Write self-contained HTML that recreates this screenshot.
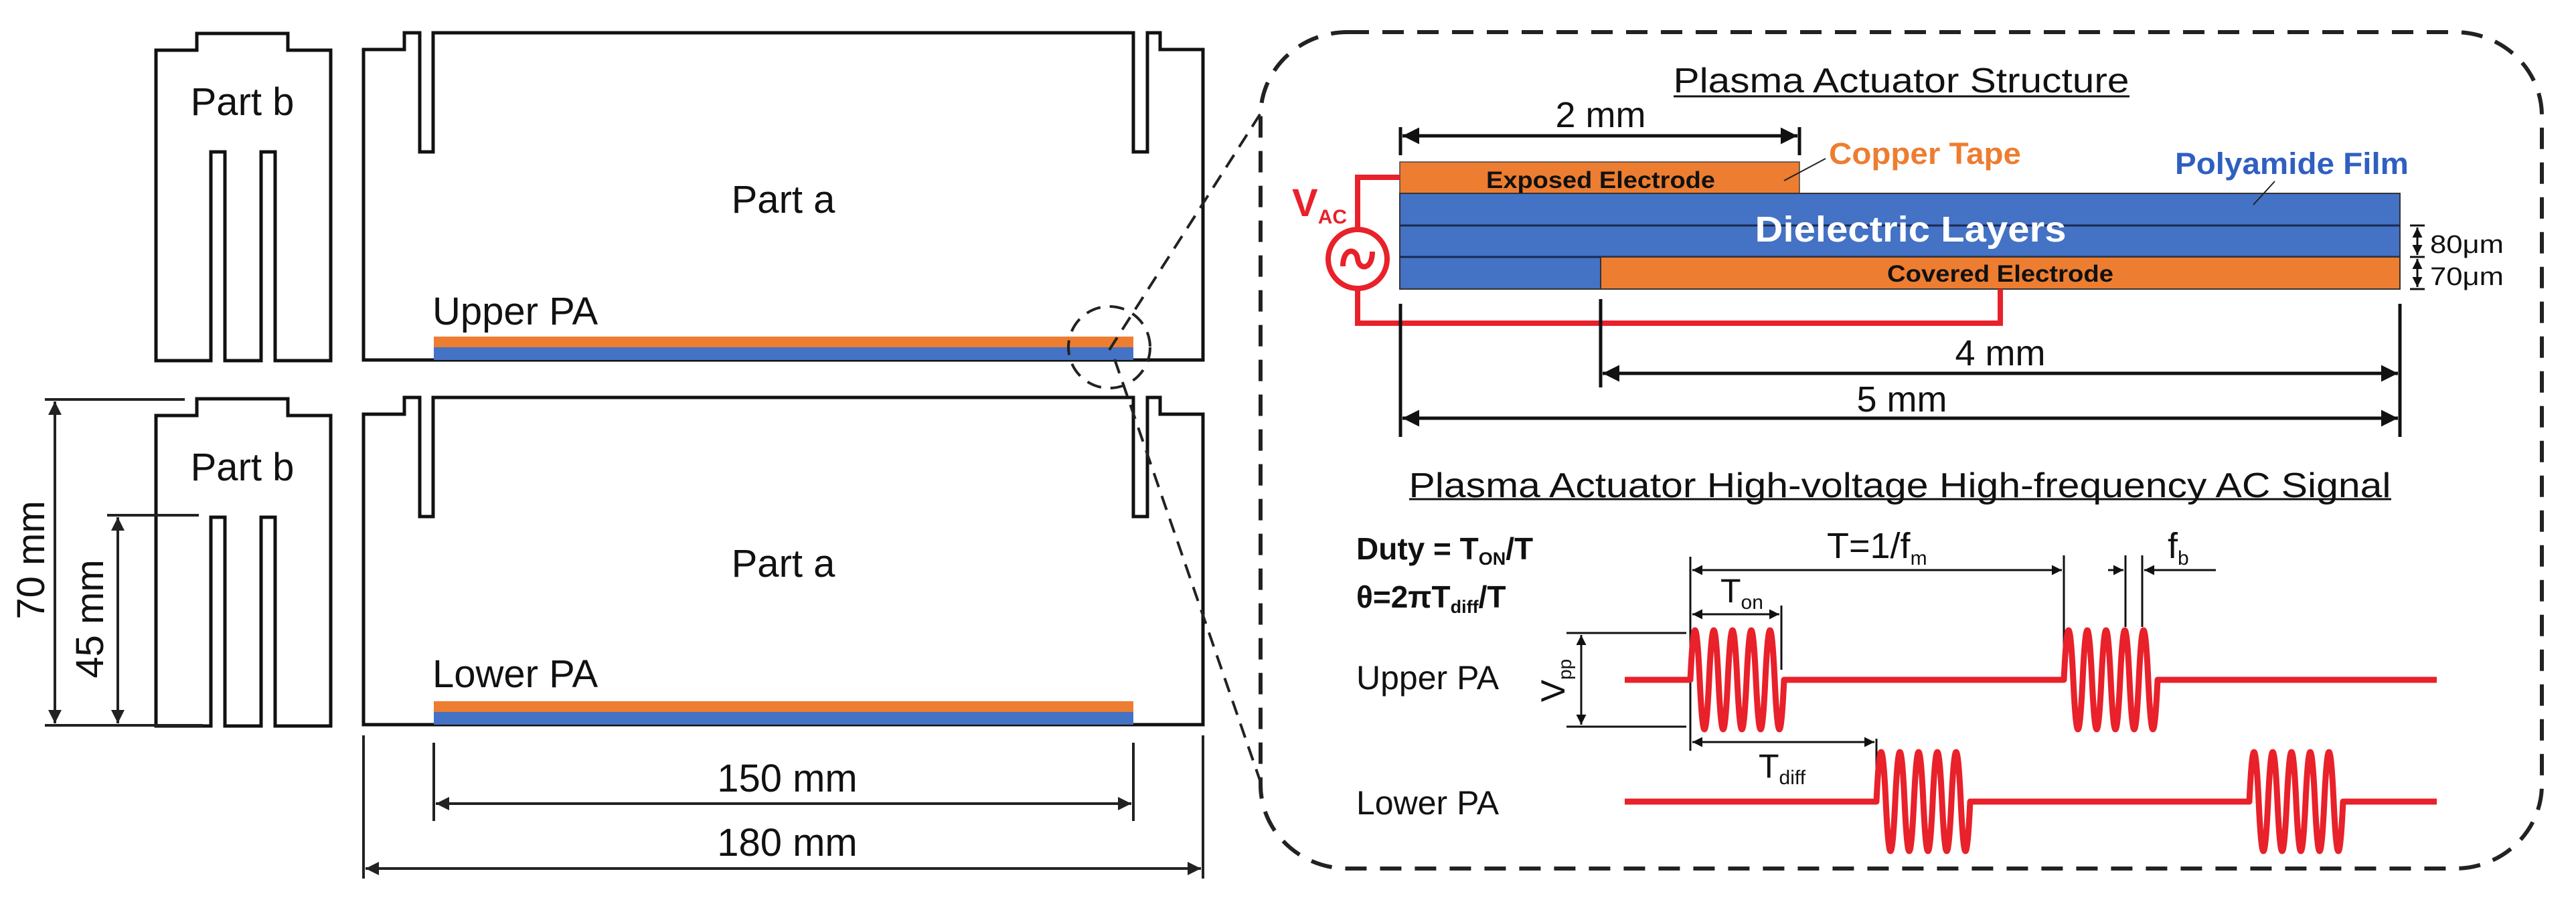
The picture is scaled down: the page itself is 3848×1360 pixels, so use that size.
<!DOCTYPE html>
<html><head><meta charset="utf-8"><style>
html,body{margin:0;padding:0;background:#fff}
svg{display:block}
text{font-family:"Liberation Sans",Arial,sans-serif}
</style></head><body>
<svg width="3848" height="1360" viewBox="0 0 3848 1360" xmlns="http://www.w3.org/2000/svg">
<defs>
<marker id="a" viewBox="0 0 10 10" refX="10" refY="5" markerWidth="9" markerHeight="5" orient="auto-start-reverse" markerUnits="strokeWidth"><path d="M0,0 L10,5 L0,10 z" fill="#222"/></marker>
<marker id="s" viewBox="0 0 10 10" refX="10" refY="5" markerWidth="6" markerHeight="5" orient="auto-start-reverse" markerUnits="strokeWidth"><path d="M0,0 L10,5 L0,10 z" fill="#111"/></marker>
<g id="pb"><path d="M233,539 V75 H294 V50 H430 V75 H494 V539 H411 V227 H390 V539 H336 V227 H315 V539 Z" fill="none" stroke="#111" stroke-width="5"/></g>
<g id="pa"><path d="M543,538 V74 H604 V49 H627 V227 H647 V49 H1693 V227 H1714 V49 H1733 V74 H1797 V538 Z" fill="none" stroke="#111" stroke-width="5"/>
<rect x="648" y="503" width="1045" height="16" fill="#ed7d31"/><rect x="648" y="519" width="1045" height="19" fill="#4472c4"/></g>
</defs>
<rect width="3848" height="1360" fill="#fff"/>
<use href="#pb"/><use href="#pa"/>
<g transform="translate(0,546)"><use href="#pb"/></g>
<g transform="translate(0,545)"><use href="#pa"/></g>
<g fill="#111" font-size="58">
<text x="362" y="172" text-anchor="middle">Part b</text>
<text x="362" y="718" text-anchor="middle">Part b</text>
<text x="1170" y="318" text-anchor="middle">Part a</text>
<text x="1170" y="862" text-anchor="middle">Part a</text>
<text x="646" y="485">Upper PA</text>
<text x="646" y="1027">Lower PA</text>
<text x="1176" y="1183" text-anchor="middle">150 mm</text>
<text x="1176" y="1279" text-anchor="middle">180 mm</text>
<text transform="translate(66,837) rotate(-90)" text-anchor="middle">70 mm</text>
<text transform="translate(154,925) rotate(-90)" text-anchor="middle">45 mm</text>
</g>
<g stroke="#222" stroke-width="4" fill="none">
<line x1="67" y1="597" x2="276" y2="597"/><line x1="67" y1="1084" x2="303" y2="1084"/>
<line x1="82" y1="600" x2="82" y2="1081" marker-start="url(#a)" marker-end="url(#a)"/>
<line x1="160" y1="770" x2="297" y2="770"/>
<line x1="176" y1="773" x2="176" y2="1081" marker-start="url(#a)" marker-end="url(#a)"/>
<line x1="648" y1="1110" x2="648" y2="1227"/><line x1="1693" y1="1110" x2="1693" y2="1227"/>
<line x1="651" y1="1201" x2="1690" y2="1201" marker-start="url(#a)" marker-end="url(#a)"/>
<line x1="543" y1="1099" x2="543" y2="1313"/><line x1="1797" y1="1099" x2="1797" y2="1313"/>
<line x1="546" y1="1298" x2="1794" y2="1298" marker-start="url(#a)" marker-end="url(#a)"/>
</g>
<g stroke="#222" stroke-width="4" fill="none" stroke-dasharray="22,14">
<ellipse cx="1657" cy="519" rx="61" ry="61"/>
<line x1="1657" y1="523" x2="1884" y2="168"/>
<line x1="1665" y1="537" x2="1882" y2="1166"/>
</g>
<rect x="1883" y="48" width="1914" height="1250" rx="130" ry="125" fill="none" stroke="#222" stroke-width="6" stroke-dasharray="32,20"/>
<text x="2840" y="138" font-size="52" text-anchor="middle" fill="#111" textLength="681" lengthAdjust="spacingAndGlyphs">Plasma Actuator Structure</text>
<line x1="2500" y1="144" x2="3181" y2="144" stroke="#111" stroke-width="3"/>
<text x="2391" y="190" font-size="54" text-anchor="middle" fill="#111">2 mm</text>
<g stroke="#111" stroke-width="5" fill="none">
<line x1="2092" y1="190" x2="2092" y2="232"/><line x1="2688" y1="190" x2="2688" y2="232"/>
<line x1="2095" y1="203" x2="2685" y2="203" marker-start="url(#s)" marker-end="url(#s)"/>
</g>
<rect x="2091" y="242" width="597" height="47" fill="#ed7d31" stroke="#444" stroke-width="1.5"/>
<rect x="2091" y="289" width="1494" height="143" fill="#4472c4" stroke="#333" stroke-width="2"/>
<line x1="2091" y1="337" x2="3585" y2="337" stroke="#1a2a50" stroke-width="3"/>
<line x1="2091" y1="384" x2="3585" y2="384" stroke="#1a2a50" stroke-width="3"/>
<rect x="2391" y="384" width="1194" height="48" fill="#ed7d31" stroke="#333" stroke-width="2"/>
<text x="2391" y="281" font-size="35" font-weight="bold" text-anchor="middle" fill="#111" textLength="342" lengthAdjust="spacingAndGlyphs">Exposed Electrode</text>
<text x="2988" y="421" font-size="35" font-weight="bold" text-anchor="middle" fill="#111" textLength="338" lengthAdjust="spacingAndGlyphs">Covered Electrode</text>
<text x="2854" y="361" font-size="54" font-weight="bold" text-anchor="middle" fill="#fff" textLength="465" lengthAdjust="spacingAndGlyphs">Dielectric Layers</text>
<text x="2732" y="245" font-size="45" font-weight="bold" fill="#ed7d31" textLength="287" lengthAdjust="spacingAndGlyphs">Copper Tape</text>
<line x1="2727" y1="237" x2="2665" y2="270" stroke="#222" stroke-width="2"/>
<text x="3249" y="260" font-size="45" font-weight="bold" fill="#2f5fc0" textLength="349" lengthAdjust="spacingAndGlyphs">Polyamide Film</text>
<line x1="3398" y1="271" x2="3366" y2="306" stroke="#222" stroke-width="2"/>
<g stroke="#111" stroke-width="3" fill="none">
<line x1="3600" y1="337" x2="3622" y2="337"/><line x1="3600" y1="384" x2="3622" y2="384"/><line x1="3600" y1="432" x2="3622" y2="432"/>
<line x1="3611" y1="340" x2="3611" y2="381" marker-start="url(#s)" marker-end="url(#s)"/>
<line x1="3611" y1="387" x2="3611" y2="429" marker-start="url(#s)" marker-end="url(#s)"/>
</g>
<text x="3630" y="378" font-size="38" fill="#111" textLength="110" lengthAdjust="spacingAndGlyphs">80μm</text>
<text x="3630" y="426" font-size="38" fill="#111" textLength="110" lengthAdjust="spacingAndGlyphs">70μm</text>
<g stroke="#e8212a" stroke-width="8" fill="none">
<path d="M2091,265 H2028 V343"/>
<path d="M2028,431 V483 H2988 V432"/>
<circle cx="2028" cy="387" r="44"/>
<path d="M2006,398 C2006,370 2026,370 2028,387 C2030,404 2050,404 2050,376"/>
</g>
<text x="1930" y="323" font-size="58" font-weight="bold" fill="#e8212a">V<tspan font-size="30" dy="11">AC</tspan></text>
<g stroke="#111" stroke-width="5" fill="none">
<line x1="2391" y1="447" x2="2391" y2="579"/>
<line x1="2092" y1="454" x2="2092" y2="653"/><line x1="3585" y1="454" x2="3585" y2="653"/>
<line x1="2394" y1="558" x2="3582" y2="558" marker-start="url(#s)" marker-end="url(#s)"/>
<line x1="2095" y1="625" x2="3582" y2="625" marker-start="url(#s)" marker-end="url(#s)"/>
</g>
<text x="2988" y="546" font-size="54" text-anchor="middle" fill="#111">4 mm</text>
<text x="2841" y="615" font-size="54" text-anchor="middle" fill="#111">5 mm</text>
<text x="2838" y="743" font-size="52" text-anchor="middle" fill="#111" textLength="1467" lengthAdjust="spacingAndGlyphs">Plasma Actuator High-voltage High-frequency AC Signal</text>
<line x1="2105" y1="746" x2="3572" y2="746" stroke="#111" stroke-width="3"/>
<text x="2026" y="836" font-size="46" font-weight="bold" fill="#111">Duty = T<tspan font-size="27" dy="8">ON</tspan><tspan dy="-8">/T</tspan></text>
<text x="2026" y="908" font-size="46" font-weight="bold" fill="#111">θ=2πT<tspan font-size="27" dy="8">diff</tspan><tspan dy="-8">/T</tspan></text>
<text x="2026" y="1030" font-size="50" fill="#111">Upper PA</text>
<text x="2026" y="1217" font-size="50" fill="#111">Lower PA</text>
<g stroke="#111" stroke-width="3" fill="none">
<line x1="2525" y1="832" x2="2525" y2="1122"/><line x1="3083" y1="830" x2="3083" y2="1015"/>
<line x1="2528" y1="852" x2="3080" y2="852" marker-start="url(#s)" marker-end="url(#s)"/>
<line x1="3175" y1="830" x2="3175" y2="937"/><line x1="3200" y1="830" x2="3200" y2="937"/>
<line x1="3149" y1="852" x2="3172" y2="852" marker-end="url(#s)"/>
<line x1="3310" y1="852" x2="3203" y2="852" marker-end="url(#s)"/>
<line x1="2661" y1="905" x2="2661" y2="1001"/>
<line x1="2528" y1="918" x2="2658" y2="918" marker-start="url(#s)" marker-end="url(#s)"/>
<line x1="2340" y1="946" x2="2519" y2="946"/><line x1="2340" y1="1086" x2="2519" y2="1086"/>
<line x1="2362" y1="949" x2="2362" y2="1083" marker-start="url(#s)" marker-end="url(#s)"/>
<line x1="2803" y1="1104" x2="2803" y2="1196"/>
<line x1="2528" y1="1109" x2="2800" y2="1109" marker-start="url(#s)" marker-end="url(#s)"/>
</g>
<text x="2729" y="834" font-size="54" fill="#111">T=1/f<tspan font-size="30" dy="10">m</tspan></text>
<text x="3238" y="834" font-size="54" fill="#111">f<tspan font-size="30" dy="10">b</tspan></text>
<text x="2570" y="900" font-size="50" fill="#111">T<tspan font-size="30" dy="10">on</tspan></text>
<text x="2627" y="1162" font-size="50" fill="#111">T<tspan font-size="30" dy="10">diff</tspan></text>
<text transform="translate(2337,1017) rotate(-90)" font-size="50" fill="#111" text-anchor="middle">V<tspan font-size="28" dy="10">pp</tspan></text>
<g stroke="#e8212a" stroke-width="9" fill="none" stroke-linejoin="round">
<path d="M2427,1016 H2525 Q2532,868 2539,1016 T2553,1016 T2567,1016 T2581,1016 T2595,1016 T2609,1016 T2623,1016 T2637,1016 T2651,1016 T2665,1016 H3083 Q3090,868 3097,1016 T3111,1016 T3125,1016 T3139,1016 T3153,1016 T3167,1016 T3181,1016 T3195,1016 T3209,1016 T3223,1016 H3640"/>
<path d="M2427,1198 H2803 Q2810,1050 2817,1198 T2831,1198 T2845,1198 T2859,1198 T2873,1198 T2887,1198 T2901,1198 T2915,1198 T2929,1198 T2943,1198 H3360 Q3367,1050 3374,1198 T3388,1198 T3402,1198 T3416,1198 T3430,1198 T3444,1198 T3458,1198 T3472,1198 T3486,1198 T3500,1198 H3640"/>
</g>
</svg>
</body></html>
